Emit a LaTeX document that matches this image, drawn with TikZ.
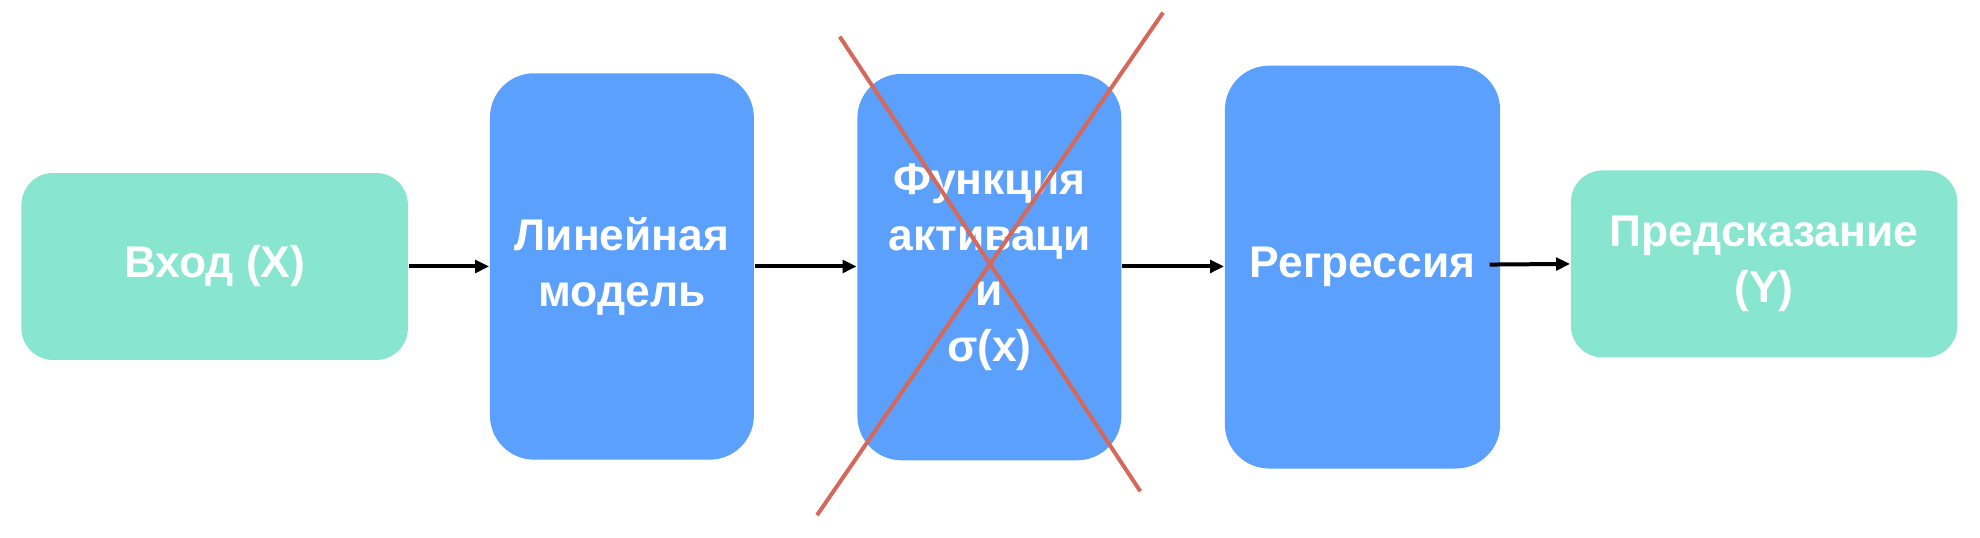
\documentclass[tikz,border=0pt]{standalone}
\usepackage{fontspec}
\setmainfont{Liberation Sans}
\usetikzlibrary{arrows.meta,calc}

\definecolor{boxgreen}{RGB}{136,229,208}
\definecolor{boxblue}{RGB}{91,160,252}
\definecolor{crossred}{RGB}{214,104,90}

\begin{document}
\begin{tikzpicture}[
      every node/.style={font=\fontsize{10}{12.5}\selectfont\bfseries,text=white,align=center},
      io/.style={fill=boxgreen,rounded corners=0.25cm,minimum width=3.06cm,minimum height=1.48cm},
      stage/.style={fill=boxblue,rounded corners=0.35cm,minimum width=2.09cm,minimum height=3.06cm},
      flow/.style={-{Triangle[length=1.1mm,width=1.0mm]},line width=0.9pt},
      cross/.style={crossred,line width=0.9pt}
     ]
    \useasboundingbox (0,0) rectangle (15.68,4.26);
    % boxes
    \node[io] (in) at (1.70,2.15) {Вход (X)};
    \node[stage] (lin) at (4.925,2.15) {Линейная\\модель};
    \node[stage] (act) at (7.835,2.145) {Функция\\активаци\\и\\σ(x)};
    \node[stage,minimum width=2.18cm,minimum height=3.19cm] (reg) at (10.79,2.145) {Регрессия};
    \node[io] (out) at (13.97,2.17) {Предсказание\\(Y)};
    % arrows
    \draw[flow] (in.east) -- (lin.west);
    \draw[flow] (lin.east) -- (act.west |- lin.east);
    \draw[flow] (act.east |- lin.east) -- (reg.west |- lin.east);
    \draw[flow] ($(reg.east)+(-0.09,0.02)$) -- (out.west);
    % crossed out
    \coordinate (c1) at (6.65,3.97);
    \coordinate (c2) at (9.03,0.37);
    \coordinate (c3) at (6.47,0.18);
    \coordinate (c4) at (9.21,4.16);
    \draw[cross] (c1) -- (c2);
    \draw[cross] (c3) -- (c4);
\end{tikzpicture}
\end{document}
